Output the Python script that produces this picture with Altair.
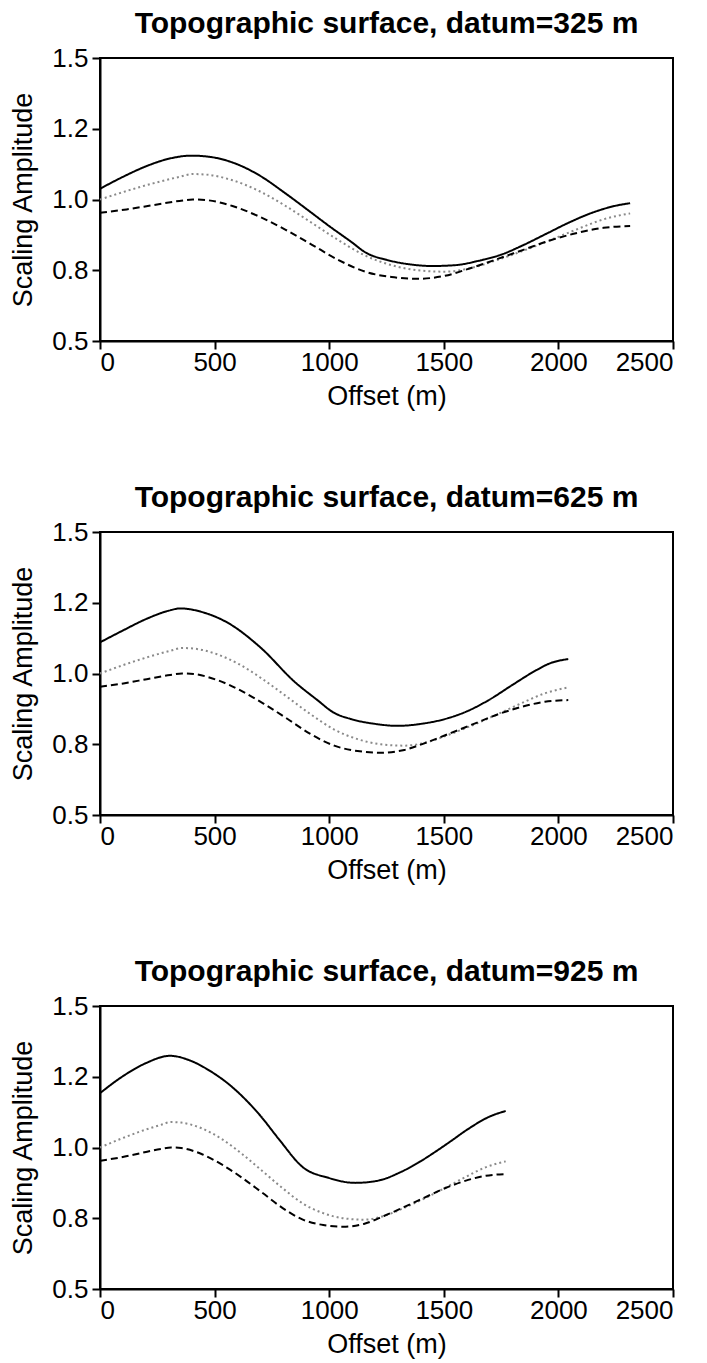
import altair as alt
import pandas as pd

FONT = "Liberation Sans"

CURVES = ["solid", "dotted", "dashed"]
CURVE_COLORS = ["#000000", "#8a8a8a", "#000000"]
CURVE_DASHES = [[1, 0], [2, 3], [7, 4]]

X_TICKS = [0, 500, 1000, 1500, 2000, 2500]
Y_TICKS = [0.5, 0.75, 1.0, 1.25, 1.5]

# Reference curves (same amplitudes in every panel, stretched over each offset range)
dotted_amp = [1.000, 1.030, 1.057, 1.080, 1.090, 1.088, 1.068, 1.030, 0.977, 0.917, 0.856,
              0.802, 0.768, 0.750, 0.745, 0.758, 0.787, 0.820, 0.857, 0.895, 0.930, 0.951]
dashed_amp = [0.953, 0.965, 0.980, 0.995, 1.000, 0.998, 0.977, 0.940, 0.893, 0.840, 0.786,
              0.745, 0.726, 0.720, 0.730, 0.758, 0.790, 0.823, 0.856, 0.882, 0.900, 0.906]

# datum = 325 m
p1_ref_x = [0, 116, 231, 347, 405, 463, 578, 694, 810, 925, 1041, 1157, 1272, 1388, 1503,
            1619, 1735, 1850, 1966, 2082, 2197, 2313]
p1_solid_x = [0, 100, 200, 300, 400, 500, 600, 700, 800, 900, 1000, 1100, 1160, 1250, 1350,
              1450, 1550, 1650, 1750, 1850, 1950, 2050, 2150, 2250, 2313]
p1_solid_amp = [1.038, 1.080, 1.117, 1.144, 1.155, 1.148, 1.124, 1.083, 1.027, 0.967, 0.906,
                0.848, 0.812, 0.787, 0.771, 0.765, 0.768, 0.783, 0.805, 0.840, 0.880, 0.920,
                0.954, 0.978, 0.987]

# datum = 625 m
p2_ref_x = [0, 102, 204, 306, 358, 409, 511, 613, 715, 817, 919, 1022, 1124, 1226, 1328,
            1430, 1532, 1634, 1737, 1839, 1941, 2043]
p2_solid_x = [0, 100, 200, 300, 350, 450, 560, 700, 850, 950, 1017, 1100, 1200, 1300, 1400,
              1500, 1600, 1700, 1800, 1900, 1963, 2043]
p2_solid_amp = [1.110, 1.152, 1.192, 1.222, 1.230, 1.216, 1.178, 1.092, 0.970, 0.905, 0.863,
                0.838, 0.822, 0.815, 0.822, 0.838, 0.866, 0.908, 0.960, 1.010, 1.036, 1.051]

# datum = 925 m
p3_ref_x = [0, 89, 177, 266, 310, 354, 443, 531, 620, 708, 797, 885, 974, 1062, 1151, 1239,
            1328, 1416, 1505, 1593, 1682, 1770]
p3_solid_x = [0, 100, 200, 305, 400, 487, 560, 633, 700, 778, 887, 996, 1113, 1214, 1309,
              1400, 1454, 1530, 1600, 1702, 1770]
p3_solid_amp = [1.192, 1.252, 1.298, 1.324, 1.305, 1.267, 1.225, 1.171, 1.112, 1.032, 0.929,
                0.893, 0.875, 0.883, 0.912, 0.952, 0.980, 1.022, 1.062, 1.110, 1.129]

DATUMS = [325, 625, 925]


def frame(solid_x, solid_amp, ref_x):
    rows = []
    for x, y in zip(solid_x, solid_amp):
        rows.append({"offset": x, "amp": y, "curve": "solid"})
    for x, y in zip(ref_x, dotted_amp):
        rows.append({"offset": x, "amp": y, "curve": "dotted"})
    for x, y in zip(ref_x, dashed_amp):
        rows.append({"offset": x, "amp": y, "curve": "dashed"})
    return pd.DataFrame(rows)


def panel(datum, solid_x, solid_amp, ref_x):
    df = frame(solid_x, solid_amp, ref_x)
    return alt.Chart(df).mark_line(interpolate="monotone", strokeWidth=2).encode(
        x=alt.X("offset:Q",
                scale=alt.Scale(domain=[0, 2500], nice=False),
                axis=alt.Axis(values=X_TICKS, title="Offset (m)", format="d",
                              labelPadding=0, titlePadding=8)),
        y=alt.Y("amp:Q",
                scale=alt.Scale(domain=[0.5, 1.5], nice=False, zero=False),
                axis=alt.Axis(values=Y_TICKS, title="Scaling Amplitude",
                              labelPadding=4, titlePadding=14,
                              labelExpr="datum.value == 0.75 ? '0.8' : datum.value == 1.25 ? '1.2' : format(datum.value, '.1f')")),
        color=alt.Color("curve:N", scale=alt.Scale(domain=CURVES, range=CURVE_COLORS), legend=None),
        strokeDash=alt.StrokeDash("curve:N", scale=alt.Scale(domain=CURVES, range=CURVE_DASHES), legend=None),
        order=alt.Order("offset:Q"),
    ).properties(
        width=573, height=283,
        title=alt.Title(f"Topographic surface, datum={datum} m"),
    )


chart = alt.vconcat(
    panel(DATUMS[0], p1_solid_x, p1_solid_amp, p1_ref_x),
    panel(DATUMS[1], p2_solid_x, p2_solid_amp, p2_ref_x),
    panel(DATUMS[2], p3_solid_x, p3_solid_amp, p3_ref_x),
    spacing=72,
).properties(
    padding={"left": 8, "top": 8, "right": 4, "bottom": 4},
    background="white",
).configure_view(
    stroke="black", strokeWidth=2,
).configure_axis(
    grid=False,
    domainColor="black", domainWidth=2,
    tickColor="black", tickWidth=2, tickSize=8,
    labelFont=FONT, labelFontSize=26, labelColor="black",
    titleFont=FONT, titleFontSize=27, titleFontWeight="normal", titleColor="black",
).configure_title(
    font=FONT, fontSize=30, fontWeight="bold", anchor="middle", color="black", offset=6,
)

chart.save("out.html", embed_options={"renderer": "svg", "actions": False})
